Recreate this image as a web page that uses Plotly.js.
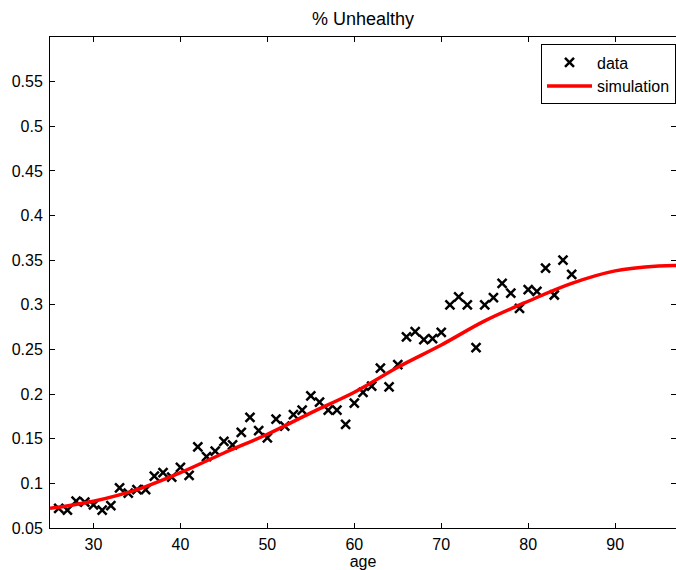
<!DOCTYPE html>
<html>
<head>
<meta charset="utf-8">
<script src="https://cdn.plot.ly/plotly-3.0.1.min.js"></script>
<style>html,body{margin:0;padding:0;background:#fff;}#chart{width:676px;height:570px;}</style>
</head>
<body>
<div id="chart"></div>
<script>
var dataAge = [26,27,28,29,30,31,32,33,34,35,36,37,38,39,40,41,42,43,44,45,46,47,48,49,50,51,52,53,54,55,56,57,58,59,60,61,62,63,64,65,66,67,68,69,70,71,72,73,74,75,76,77,78,79,80,81,82,83,84,85];
var dataVal = [0.072,0.070,0.080,0.079,0.076,0.070,0.075,0.095,0.089,0.093,0.093,0.108,0.112,0.107,0.118,0.109,0.141,0.130,0.136,0.147,0.143,0.157,0.174,0.159,0.151,0.172,0.164,0.177,0.182,0.198,0.191,0.182,0.182,0.166,0.190,0.202,0.209,0.229,0.208,0.233,0.264,0.270,0.261,0.262,0.269,0.300,0.309,0.300,0.252,0.300,0.308,0.324,0.313,0.296,0.317,0.315,0.341,0.311,0.350,0.334];
var simAge = [25,30,35,40,45,50,55,60,65,70,75,80,85,90,95,97];
var simVal = [0.072,0.080,0.093,0.112,0.134,0.155,0.179,0.202,0.230,0.255,0.282,0.304,0.324,0.338,0.3435,0.344];
var yTicks = [0.05,0.1,0.15,0.2,0.25,0.3,0.35,0.4,0.45,0.5,0.55];
var yTickText = ['0.05','0.1','0.15','0.2','0.25','0.3','0.35','0.4','0.45','0.5','0.55'];
var xTicks = [30,40,50,60,70,80,90];

var traces = [
  {x: dataAge, y: dataVal, type: 'scatter', mode: 'markers', name: 'data',
   marker: {symbol: 'x-thin', size: 9, color: '#000', line: {color: '#000', width: 2.5}}},
  {x: simAge, y: simVal, type: 'scatter', mode: 'lines', name: 'simulation',
   line: {color: '#ff0000', width: 3.5, shape: 'spline', smoothing: 1}}
];
var font = {family: 'Liberation Sans, Arial, sans-serif', size: 16, color: '#000'};
var layout = {
  width: 676, height: 570,
  margin: {l: 50, r: 0, t: 37, b: 42},
  paper_bgcolor: '#fff', plot_bgcolor: '#fff',
  font: font,
  title: {text: '% Unhealthy', font: {family: font.family, size: 18, color: '#000'}, x: 0.537, xanchor: 'center', y: 0.968, yanchor: 'middle'},
  xaxis: {range: [25, 97], tickvals: xTicks, ticks: 'inside', ticklen: 5, tickcolor: '#000', ticklabelstandoff: 2,
          showline: true, linecolor: '#000', linewidth: 1, mirror: 'ticks', showgrid: false, zeroline: false,
          automargin: false, title: {text: 'age', font: font, standoff: 0}},
  yaxis: {range: [0.05, 0.6], tickvals: yTicks, ticktext: yTickText, ticks: 'inside', ticklen: 5, tickcolor: '#000', ticklabelstandoff: 3,
          showline: true, linecolor: '#000', linewidth: 1, mirror: 'ticks', showgrid: false, zeroline: false, automargin: false},
  showlegend: true,
  legend: {x: 1, xanchor: 'right', y: 0.985, yanchor: 'top', bordercolor: '#000', borderwidth: 1,
           bgcolor: '#fff', font: font, tracegroupgap: 0, itemwidth: 45}
};
Plotly.newPlot('chart', traces, layout, {displayModeBar: false, staticPlot: true});
</script>
</body>
</html>
